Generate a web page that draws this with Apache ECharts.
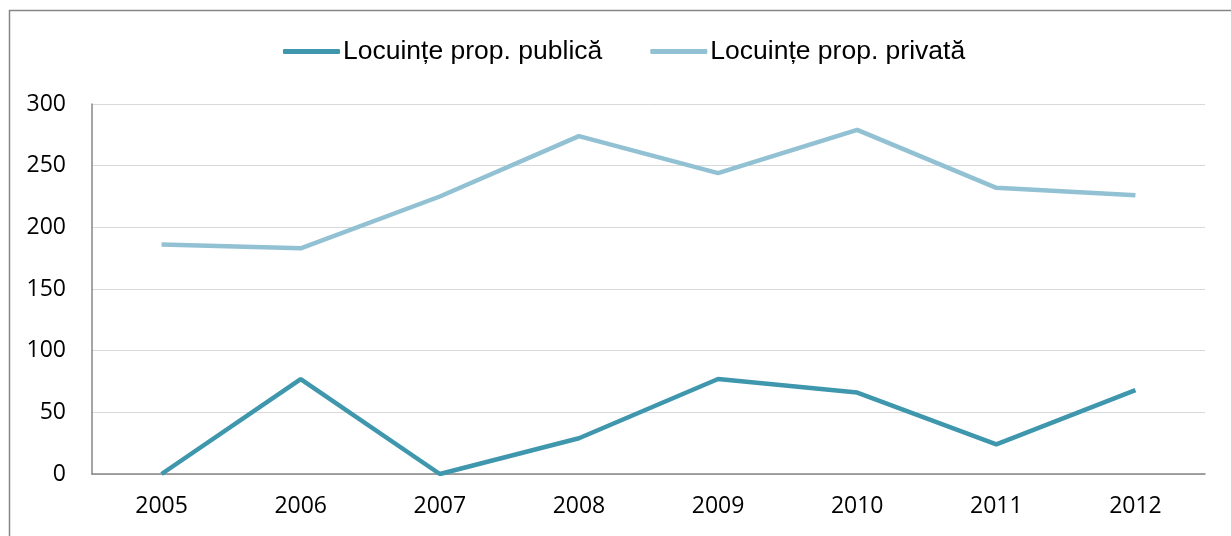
<!DOCTYPE html>
<html><head><meta charset="utf-8">
<script src="https://cdn.jsdelivr.net/npm/echarts@6/dist/echarts.min.js"></script>
<style>html,body{margin:0;padding:0;background:#fff}#c{width:1231px;height:536px}</style>
</head><body><div id="c"></div>
<script>
const categories = ['2005','2006','2007','2008','2009','2010','2011','2012'];
const publicHousing = [0, 77, 0, 29, 77, 66, 24, 68];
const privateHousing = [186, 183, 225, 274, 244, 279, 232, 226];
const seriesNames = ['Locuințe prop. publică', 'Locuințe prop. privată'];
const yTicks = { min: 0, max: 300, interval: 50 };

const chart = echarts.init(document.getElementById('c'));
chart.setOption({
  animation: false,
  backgroundColor: '#fff',
  graphic: [{ type: 'rect', shape: { x: 9.5, y: 10.5, width: 1240, height: 540 }, style: { fill: 'none', stroke: '#868686', lineWidth: 1.5 }, silent: true }],
  legend: {
    top: 33, left: 278, itemGap: 48, itemWidth: 57, itemHeight: 5,
    icon: 'roundRect',
    textStyle: { fontFamily: 'Liberation Sans', fontSize: 26.5, color: '#000', padding: [0,0,0,-2] },
    data: seriesNames
  },
  grid: { left: 92, right: 26, top: 104, bottom: 62 },
  xAxis: {
    type: 'category', data: categories, boundaryGap: true,
    axisLine: { lineStyle: { color: '#868686', width: 1.5 } },
    axisTick: { show: false },
    axisLabel: { fontFamily: 'Open Sans', fontSize: 23, color: '#000', margin: 21 }
  },
  yAxis: {
    type: 'value', min: yTicks.min, max: yTicks.max, interval: yTicks.interval,
    axisLine: { show: true, lineStyle: { color: '#868686', width: 1.5 } },
    axisTick: { show: false },
    splitLine: { lineStyle: { color: '#d9d9d9', width: 1 } },
    axisLabel: { fontFamily: 'Open Sans', fontSize: 23, color: '#000', margin: 26 }
  },
  series: [
    { name: seriesNames[0], type: 'line', data: publicHousing, showSymbol: false, symbol: 'none',
      lineStyle: { color: '#3f97ae', width: 4.5 }, itemStyle: { color: '#3f97ae' } },
    { name: seriesNames[1], type: 'line', data: privateHousing, showSymbol: false, symbol: 'none',
      lineStyle: { color: '#92c1d3', width: 4.5 }, itemStyle: { color: '#92c1d3' } }
  ]
});
</script></body></html>
